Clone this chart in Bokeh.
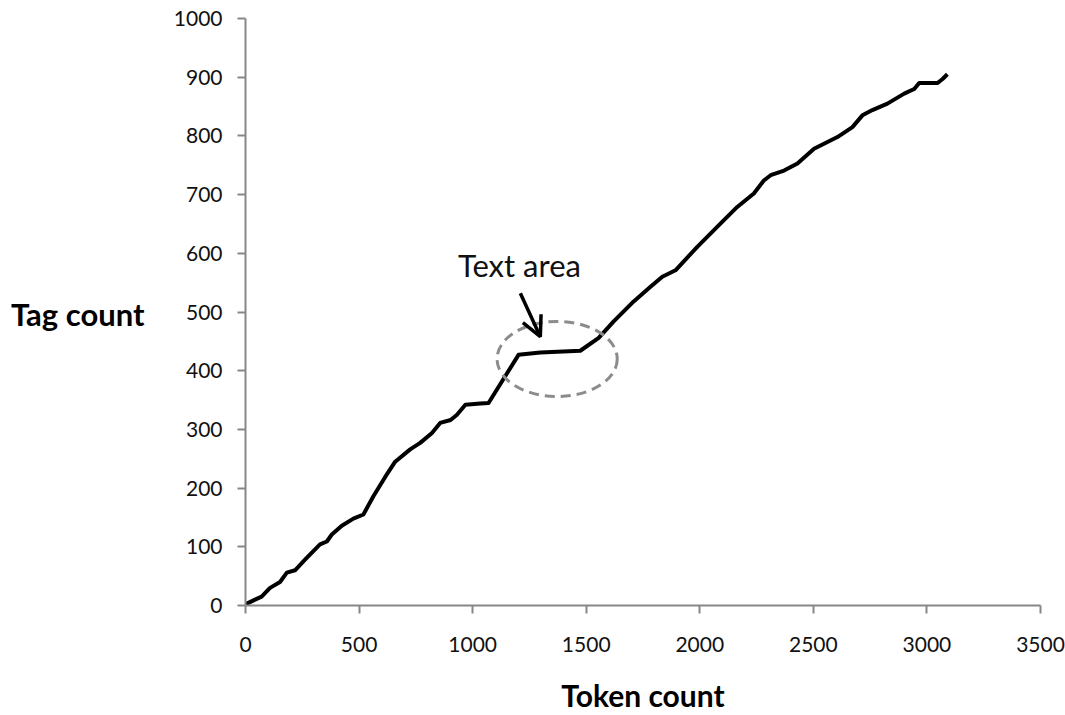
from bokeh.plotting import figure
from bokeh.models import Range1d, Arrow, OpenHead, FixedTicker, LinearAxis, Label
from bokeh.embed import file_html
from bokeh.resources import INLINE

# data
token_count = [0, 42, 71, 108, 152, 182, 218, 262, 328, 358, 380, 424, 475, 519,
               563, 615, 659, 725, 769, 821, 857, 903, 931, 968, 1034, 1070,
               1202, 1298, 1474, 1555, 1621, 1709, 1783, 1835, 1893, 1989, 2092,
               2165, 2238, 2282, 2312, 2371, 2430, 2503, 2606, 2672, 2716, 2760,
               2826, 2900, 2944, 2966, 3047, 3069, 3090]
tag_count = [2, 10, 15, 30, 40, 56, 60, 78, 104, 109, 121, 136, 148, 155,
             186, 219, 245, 266, 277, 294, 311, 316, 325, 342, 344, 345,
             427, 431, 434, 456, 484, 518, 543, 560, 571, 611, 651,
             679, 702, 724, 733, 741, 753, 778, 798, 815, 835, 844,
             855, 872, 880, 890, 890, 897, 905]
x_ticks = [0, 500, 1000, 1500, 2000, 2500, 3000, 3500]
y_ticks = [0, 100, 200, 300, 400, 500, 600, 700, 800, 900, 1000]

FONT = "Lato"
AXIS_GREY = "#878787"

p = figure(width=1065, height=715, output_backend="svg", toolbar_location=None,
           x_range=Range1d(0, 3500), y_range=Range1d(0, 1000),
           min_border_left=245, min_border_right=25, min_border_top=18,
           min_border_bottom=109)
p.outline_line_color = None
p.xgrid.grid_line_color = None
p.ygrid.grid_line_color = None

for ax in (p.xaxis[0], p.yaxis[0]):
    ax.axis_line_color = AXIS_GREY
    ax.axis_line_width = 2
    ax.major_tick_line_color = AXIS_GREY
    ax.major_tick_line_width = 2
    ax.major_tick_out = 8
    ax.major_tick_in = 0
    ax.minor_tick_line_color = None
    ax.major_label_text_font = FONT
    ax.major_label_text_font_size = "21px"
    ax.major_label_text_color = "#111111"

p.xaxis.ticker = FixedTicker(ticks=x_ticks)
p.yaxis.ticker = FixedTicker(ticks=y_ticks)
p.xaxis.major_label_standoff = 23
p.yaxis.major_label_standoff = 15

p.xaxis.axis_label = "Token count"
p.xaxis.axis_label_text_font = FONT
p.xaxis.axis_label_text_font_style = "bold"
p.xaxis.axis_label_text_font_size = "30px"
p.xaxis.axis_label_text_color = "black"
p.xaxis.axis_label_standoff = 22

# horizontal y-axis title, drawn as the single label of an outer axis
title_axis = LinearAxis(ticker=FixedTicker(ticks=[497]),
                        major_label_overrides={497: "Tag count"})
title_axis.axis_line_color = None
title_axis.major_tick_line_color = None
title_axis.minor_tick_line_color = None
title_axis.major_tick_out = 0
title_axis.major_label_standoff = 26
title_axis.major_label_text_font = FONT
title_axis.major_label_text_font_style = "bold"
title_axis.major_label_text_font_size = "31px"
title_axis.major_label_text_color = "black"
p.add_layout(title_axis, "left")

p.line(token_count, tag_count, line_color="black", line_width=4, line_join="round")

# highlighted region
p.ellipse(x=[1372], y=[420], width=[529], height=[128], fill_color=None,
          line_color="#8c8c8c", line_width=3, line_dash="10 6")

p.add_layout(Arrow(end=OpenHead(size=20, line_width=3.5, line_color="black"),
                   x_start=1210, y_start=532, x_end=1298, y_end=458,
                   line_width=3.5, line_color="black"))

p.add_layout(Label(x=1206, y=580, text="Text area", text_font=FONT,
                   text_font_size="31px", text_align="center",
                   text_baseline="alphabetic", text_color="#111111"))

open("out.html", "w").write(file_html(p, INLINE))
